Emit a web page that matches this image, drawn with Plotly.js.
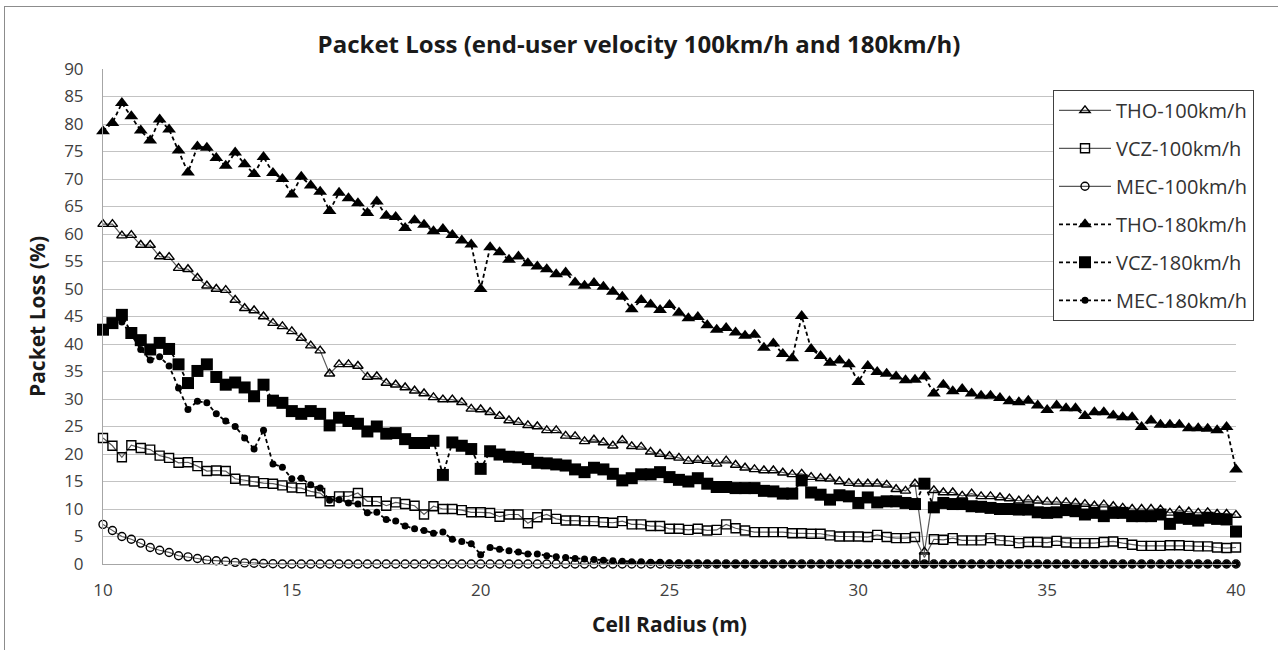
<!DOCTYPE html>
<html>
<head>
<meta charset="utf-8">
<script src="https://cdn.plot.ly/plotly-3.0.1.min.js"></script>
<style>
  html, body { margin: 0; padding: 0; background: #fff; }
  #wrap { position: relative; width: 1278px; height: 650px; overflow: hidden; }
  #chart { position: absolute; left: 0; top: 0; width: 1278px; height: 650px; }
  #frame { position: absolute; left: 4px; top: 6px; width: 1290px; height: 660px; border: 1px solid #8c8c8c; pointer-events: none; }
</style>
</head>
<body>
<div id="wrap"><div id="chart"></div><div id="frame"></div></div>
<script>
// Cell radius (m)
const cellRadius = [
  10, 10.25, 10.5, 10.75, 11, 11.25, 11.5, 11.75, 12, 12.25, 12.5, 12.75, 13, 13.25, 13.5, 13.75,
  14, 14.25, 14.5, 14.75, 15, 15.25, 15.5, 15.75, 16, 16.25, 16.5, 16.75, 17, 17.25, 17.5, 17.75,
  18, 18.25, 18.5, 18.75, 19, 19.25, 19.5, 19.75, 20, 20.25, 20.5, 20.75, 21, 21.25, 21.5, 21.75,
  22, 22.25, 22.5, 22.75, 23, 23.25, 23.5, 23.75, 24, 24.25, 24.5, 24.75, 25, 25.25, 25.5, 25.75,
  26, 26.25, 26.5, 26.75, 27, 27.25, 27.5, 27.75, 28, 28.25, 28.5, 28.75, 29, 29.25, 29.5, 29.75,
  30, 30.25, 30.5, 30.75, 31, 31.25, 31.5, 31.75, 32, 32.25, 32.5, 32.75, 33, 33.25, 33.5, 33.75,
  34, 34.25, 34.5, 34.75, 35, 35.25, 35.5, 35.75, 36, 36.25, 36.5, 36.75, 37, 37.25, 37.5, 37.75,
  38, 38.25, 38.5, 38.75, 39, 39.25, 39.5, 39.75, 40
];

const tho100 = [
  61.8, 61.8, 59.7, 59.8, 58.0, 58.0, 55.9, 55.8, 53.8, 53.6, 52.0, 50.6, 50.0, 49.8, 48.0, 46.5,
  46.1, 45.0, 43.8, 43.2, 42.3, 41.1, 39.7, 38.8, 34.6, 36.3, 36.3, 36.0, 34.0, 34.1, 32.9,
  32.6, 32.1, 31.5, 31.0, 30.3, 29.9, 29.9, 29.4, 28.2, 28.1, 27.6, 26.9, 26.1, 25.8, 25.2,
  25.0, 24.3, 24.3, 23.3, 23.2, 22.3, 22.6, 22.1, 21.5, 22.5, 21.4, 21.3, 20.4, 20.0, 19.6,
  19.3, 18.7, 18.9, 18.7, 18.2, 18.8, 18.0, 17.5, 17.2, 17.0, 17.0, 16.6, 16.3, 16.4, 15.8,
  15.6, 15.5, 15.0, 14.7, 14.6, 14.6, 14.6, 14.4, 13.6, 13.3, 14.6, 2.2, 13.4, 13.0, 13.0,
  12.4, 12.8, 12.3, 12.3, 12.1, 11.9, 11.5, 11.7, 11.5, 11.3, 11.3, 11.2, 11.1, 10.9, 10.6,
  10.8, 10.5, 10.2, 10.0, 10.0, 10.0, 9.9, 9.3, 9.7, 9.5, 9.3, 9.4, 9.1, 9.1, 8.9
];

const vcz100 = [
  22.9, 21.5, 19.4, 21.6, 21.1, 20.8, 19.7, 19.3, 18.4, 18.5, 17.8, 16.9, 17.0, 16.9, 15.5, 15.2,
  15.0, 14.7, 14.6, 14.3, 13.9, 13.8, 13.2, 12.9, 11.4, 12.3, 12.3, 12.9, 11.4, 11.4, 10.6,
  11.2, 10.9, 10.6, 9.0, 10.5, 10.0, 10.0, 9.8, 9.4, 9.4, 9.3, 8.6, 9.0, 9.0, 7.4,
  8.5, 9.0, 8.2, 7.9, 7.9, 7.8, 7.8, 7.6, 7.5, 7.8, 7.2, 7.2, 6.9, 6.9, 6.4,
  6.4, 6.2, 6.4, 6.1, 6.2, 7.2, 6.5, 6.1, 5.8, 5.8, 5.8, 5.8, 5.6, 5.6, 5.5,
  5.5, 5.2, 5.0, 5.0, 5.0, 4.9, 5.3, 4.9, 4.7, 4.7, 4.9, 1.2, 4.5, 4.4, 4.7,
  4.3, 4.3, 4.3, 4.7, 4.3, 4.2, 3.8, 4.0, 4.0, 3.9, 4.2, 3.9, 3.8, 3.8, 3.8,
  4.0, 4.1, 3.8, 3.5, 3.3, 3.3, 3.3, 3.4, 3.4, 3.3, 3.2, 3.2, 3.0, 2.9, 3.0
];

const mec100 = [
  7.2, 6.1, 5.0, 4.5, 3.8, 3.0, 2.5, 2.1, 1.5, 1.3, 1.0, 0.7, 0.6, 0.5, 0.3, 0.2,
  0.15, 0.1, 0.05, 0, 0, 0, 0, 0, 0, 0, 0, 0, 0, 0, 0,
  0, 0, 0, 0, 0, 0, 0, 0, 0, 0, 0, 0, 0, 0, 0,
  0, 0, 0, 0, 0, 0, 0, 0, 0, 0, 0, 0, 0, 0, 0,
  0, 0, 0, 0, 0, 0, 0, 0, 0, 0, 0, 0, 0, 0, 0,
  0, 0, 0, 0, 0, 0, 0, 0, 0, 0, 0, 0, 0, 0, 0,
  0, 0, 0, 0, 0, 0, 0, 0, 0, 0, 0, 0, 0, 0, 0,
  0, 0, 0, 0, 0, 0, 0, 0, 0, 0, 0, 0, 0, 0, 0
];

const tho180 = [
  78.7, 80.2, 83.8, 81.4, 78.8, 77.0, 80.8, 79.0, 75.2, 71.2, 75.9, 75.7, 73.8, 72.4, 74.8, 72.7,
  70.9, 74.0, 71.1, 70.0, 67.2, 70.4, 68.8, 67.7, 64.2, 67.5, 66.5, 65.6, 63.8, 65.9, 63.3,
  63.1, 61.1, 62.5, 61.7, 60.5, 60.9, 59.8, 58.8, 58.1, 50.0, 57.6, 56.7, 55.3, 55.9, 54.7,
  54.1, 53.6, 52.7, 53.0, 51.2, 50.6, 51.1, 50.4, 49.5, 48.6, 46.3, 48.0, 47.2, 46.2, 47.1,
  45.7, 44.7, 44.9, 43.4, 42.6, 42.9, 42.1, 41.5, 41.7, 39.3, 40.1, 38.2, 37.4, 45.1, 39.1,
  37.8, 36.6, 37.0, 36.3, 33.1, 36.0, 34.9, 34.6, 34.1, 33.4, 33.5, 34.1, 31.0, 32.6, 31.4,
  31.8, 31.0, 30.6, 30.6, 30.2, 29.6, 29.4, 29.7, 28.8, 28.0, 28.8, 28.3, 28.3, 26.9, 27.6,
  27.6, 27.0, 26.7, 26.7, 24.9, 26.1, 25.3, 25.3, 25.3, 24.7, 24.7, 24.6, 24.3, 24.9, 17.2
];

const vcz180 = [
  42.6, 43.8, 45.3, 42.0, 40.7, 39.0, 40.2, 39.1, 36.3, 32.9, 35.1, 36.3, 34.0, 32.6, 33.0, 32.1,
  30.5, 32.6, 29.7, 29.3, 27.8, 27.3, 27.8, 27.3, 25.2, 26.6, 26.0, 25.5, 24.1, 25.0, 23.7,
  23.8, 22.7, 22.0, 22.0, 22.4, 16.2, 22.1, 21.5, 20.9, 17.3, 20.5, 19.9, 19.5, 19.4, 19.1,
  18.4, 18.3, 18.1, 17.9, 17.2, 16.7, 17.5, 17.2, 16.4, 15.2, 15.6, 16.3, 16.3, 16.7, 15.8,
  15.3, 15.0, 15.6, 14.6, 14.0, 14.0, 13.8, 13.8, 13.8, 13.3, 13.2, 12.8, 12.8, 15.2, 13.0,
  12.6, 11.7, 12.5, 12.3, 11.1, 12.1, 11.2, 11.4, 11.4, 11.1, 10.9, 14.6, 10.3, 11.1, 10.9,
  10.9, 10.5, 10.4, 10.2, 10.0, 10.0, 9.9, 9.9, 9.4, 9.3, 9.4, 9.8, 9.6, 9.0, 9.3,
  8.7, 9.3, 9.3, 8.7, 8.7, 8.7, 9.0, 7.3, 8.4, 8.2, 7.9, 8.4, 8.2, 8.1, 5.9
];

const mec180 = [
  42.3, 43.8, 44.0, 41.7, 39.0, 37.1, 37.7, 36.0, 32.0, 28.1, 29.6, 29.3, 27.3, 26.0, 25.0, 22.9,
  20.9, 24.3, 18.2, 17.6, 15.5, 15.6, 14.4, 13.8, 11.6, 11.7, 11.1, 10.9, 9.3, 9.4, 8.1,
  7.8, 6.9, 6.4, 6.1, 5.6, 5.8, 4.5, 4.1, 3.7, 1.7, 3.0, 2.7, 2.4, 2.2, 1.8,
  1.8, 1.5, 1.3, 1.2, 1.0, 0.9, 0.8, 0.7, 0.6, 0.5, 0.4, 0.4, 0.3, 0.3, 0.2,
  0.2, 0.1, 0.1, 0.1, 0.05, 0, 0, 0, 0, 0, 0, 0, 0, 0, 0,
  0, 0, 0, 0, 0, 0, 0, 0, 0, 0, 0, 0, 0, 0, 0,
  0, 0, 0, 0, 0, 0, 0, 0, 0, 0, 0, 0, 0, 0, 0,
  0, 0, 0, 0, 0, 0, 0, 0, 0, 0, 0, 0, 0, 0, 0
];

const seriesNames = ['THO-100km/h', 'VCZ-100km/h', 'MEC-100km/h', 'THO-180km/h', 'VCZ-180km/h', 'MEC-180km/h'];
const xTickVals = [10, 15, 20, 25, 30, 35, 40];
const yTickVals = [0, 5, 10, 15, 20, 25, 30, 35, 40, 45, 50, 55, 60, 65, 70, 75, 80, 85, 90];

const FONT = '"Open Sans", "Liberation Sans", sans-serif';
const solidLine = { color: '#595959', width: 1.2 };
const dashLine = { color: '#000000', width: 1.8, dash: '4px,3px' };

function mk(name, y, line, symbol, size, filled) {
  return {
    type: 'scatter', mode: 'lines+markers', name: name, legendgroup: name,
    x: cellRadius, y: y, line: line, cliponaxis: false,
    marker: {
      symbol: symbol, size: size,
      color: '#000000',
      line: { color: '#000000', width: filled ? 0 : 1.4 }
    }
  };
}

const data = [
  mk(seriesNames[0], tho100, solidLine, 'triangle-up-open', 9, false),
  mk(seriesNames[1], vcz100, solidLine, 'square-open', 9, false),
  mk(seriesNames[2], mec100, solidLine, 'circle-open', 8, false),
  mk(seriesNames[3], tho180, dashLine, 'triangle-up', 12, true),
  mk(seriesNames[4], vcz180, dashLine, 'square', 12, true),
  mk(seriesNames[5], mec180, dashLine, 'circle', 7, true)
];

const layout = {
  width: 1278, height: 650,
  paper_bgcolor: 'rgba(0,0,0,0)', plot_bgcolor: 'rgba(0,0,0,0)',
  margin: { l: 103, r: 42, t: 69, b: 86, pad: 0 },
  font: { family: FONT, color: '#404040' },
  title: {
    text: '<b>Packet Loss (end-user velocity 100km/h and 180km/h)</b>',
    x: 0.5, xref: 'container', xanchor: 'center',
    y: 1 - 45 / 650, yref: 'container', yanchor: 'middle',
    font: { family: FONT, size: 24, color: '#1a1a1a' }
  },
  xaxis: {
    range: [10, 40], tickmode: 'array', tickvals: xTickVals, ticktext: xTickVals.map(String),
    showgrid: false, zeroline: false, showline: true, linecolor: '#a6a6a6', linewidth: 1,
    ticks: 'outside', ticklen: 11, tickcolor: 'rgba(0,0,0,0)',
    tickfont: { family: FONT, size: 17, color: '#404040' },
    automargin: false,
    title: { text: '<b>Cell Radius (m)</b>', standoff: 16, font: { family: FONT, size: 21, color: '#1a1a1a' } }
  },
  yaxis: {
    range: [0, 90], tickmode: 'array', tickvals: yTickVals, ticktext: yTickVals.map(String),
    showgrid: true, gridcolor: '#c3c3c3', gridwidth: 1,
    zeroline: false, showline: true, linecolor: '#a6a6a6', linewidth: 1,
    ticks: 'outside', ticklen: 15, tickcolor: 'rgba(0,0,0,0)',
    tickfont: { family: FONT, size: 17, color: '#404040' },
    automargin: false,
    title: { text: '<b>Packet Loss (%)</b>', standoff: 12, font: { family: FONT, size: 21, color: '#1a1a1a' } }
  },
  showlegend: true,
  legend: {
    x: (1053 - 103) / 1133, xanchor: 'left', y: (564.2 - 90) / 495, yanchor: 'top',
    bgcolor: '#ffffff', bordercolor: '#404040', borderwidth: 1,
    font: { family: FONT, size: 20, color: '#333333' },
    itemwidth: 52,
    traceorder: 'grouped', tracegroupgap: 9
  }
};

Plotly.newPlot('chart', data, layout, { displayModeBar: false, staticPlot: true });
</script>
</body>
</html>
